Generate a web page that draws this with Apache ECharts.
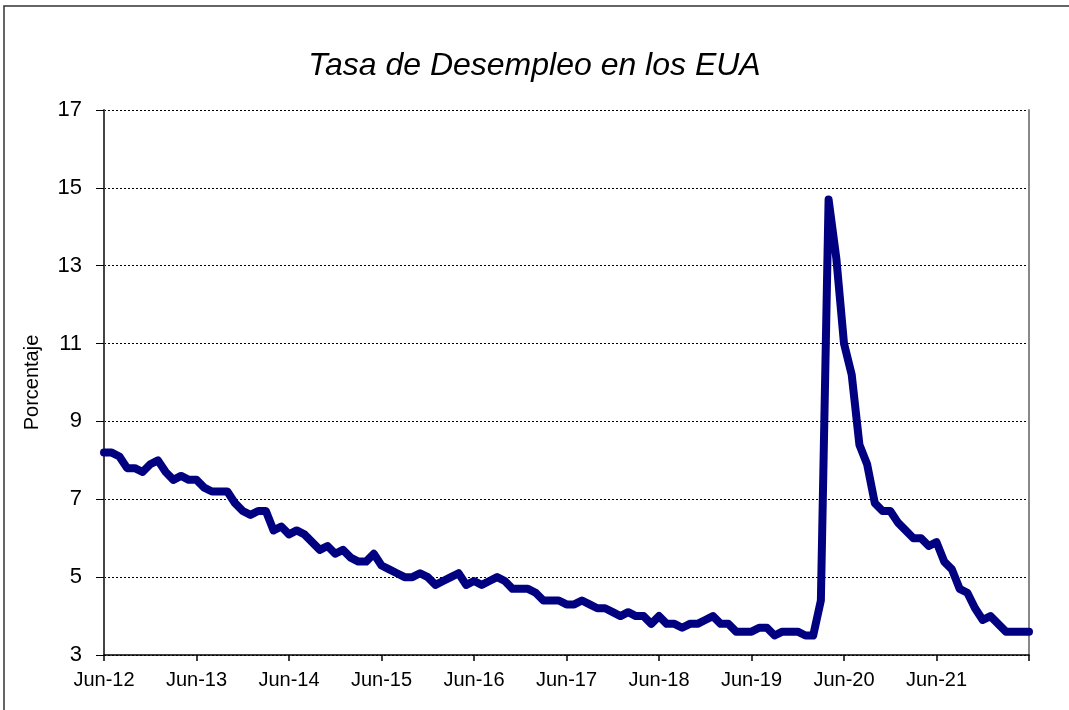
<!DOCTYPE html>
<html>
<head>
<meta charset="utf-8">
<script src="https://cdn.jsdelivr.net/npm/echarts@6/dist/echarts.min.js"></script>
<style>
  html, body { margin: 0; padding: 0; background: #fff; }
  #chart { width: 1069px; height: 710px; }
</style>
</head>
<body>
<div id="chart"></div>
<script>
// Tasa de desempleo mensual, jun-2012 a jun-2022 (%)
const MONTHS = ['Ene', 'Feb', 'Mar', 'Apr', 'May', 'Jun', 'Jul', 'Aug', 'Sep', 'Oct', 'Nov', 'Dec']
const START_YEAR = 12
const START_MONTH = 5 // Jun

const rate2012 = [8.2, 8.2, 8.1, 7.8, 7.8, 7.7, 7.9]
const rate2013 = [8.0, 7.7, 7.5, 7.6, 7.5, 7.5, 7.3, 7.2, 7.2, 7.2, 6.9, 6.7]
const rate2014 = [6.6, 6.7, 6.7, 6.2, 6.3, 6.1, 6.2, 6.1, 5.9, 5.7, 5.8, 5.6]
const rate2015 = [5.7, 5.5, 5.4, 5.4, 5.6, 5.3, 5.2, 5.1, 5.0, 5.0, 5.1, 5.0]
const rate2016 = [4.8, 4.9, 5.0, 5.1, 4.8, 4.9, 4.8, 4.9, 5.0, 4.9, 4.7, 4.7]
const rate2017 = [4.7, 4.6, 4.4, 4.4, 4.4, 4.3, 4.3, 4.4, 4.3, 4.2, 4.2, 4.1]
const rate2018 = [4.0, 4.1, 4.0, 4.0, 3.8, 4.0, 3.8, 3.8, 3.7, 3.8, 3.8, 3.9]
const rate2019 = [4.0, 3.8, 3.8, 3.6, 3.6, 3.6, 3.7, 3.7, 3.5, 3.6, 3.6, 3.6]
const rate2020 = [3.5, 3.5, 4.4, 14.7, 13.2, 11.0, 10.2, 8.4, 7.9, 6.9, 6.7, 6.7]
const rate2021 = [6.4, 6.2, 6.0, 6.0, 5.8, 5.9, 5.4, 5.2, 4.7, 4.6, 4.2, 3.9]
const rate2022 = [4.0, 3.8, 3.6, 3.6, 3.6, 3.6]

const values = [].concat(rate2012, rate2013, rate2014, rate2015, rate2016,
  rate2017, rate2018, rate2019, rate2020, rate2021, rate2022)

const categories = values.map((_, i) => {
  const m = START_MONTH + i
  const yy = START_YEAR + Math.floor(m / 12)
  return MONTHS[m % 12] + '-' + yy
})

const Y_MIN = 3
const Y_MAX = 17
const Y_STEP = 2

const chart = echarts.init(document.getElementById('chart'))
chart.setOption({
  animation: false,
  backgroundColor: '#fff',
  textStyle: { fontFamily: 'Liberation Sans, Arial, sans-serif' },
  title: {
    text: 'Tasa de Desempleo en los EUA',
    left: 'center',
    top: 45,
    textStyle: { fontSize: 32, fontStyle: 'italic', fontWeight: 'normal', color: '#000' },
  },
  graphic: [
    {
      type: 'rect',
      shape: { x: 4, y: 6, width: 1200, height: 900 },
      style: { fill: 'none', stroke: '#333', lineWidth: 1.5 },
      silent: true,
    },
  ],
  grid: { left: 104, right: 40, top: 110, bottom: 55 },
  xAxis: {
    type: 'category',
    data: categories,
    boundaryGap: false,
    axisLine: { lineStyle: { color: '#000', width: 1.5 } },
    axisTick: { interval: 11, length: 6, lineStyle: { color: '#000', width: 1.5 } },
    axisLabel: {
      interval: (i) => i % 12 === 0 && i < values.length - 1,
      color: '#000',
      fontSize: 20,
      margin: 15,
      formatter: (v) => (v.startsWith('Jun') ? v : ''),
    },
    splitLine: { show: false },
  },
  yAxis: [
    {
      type: 'value',
      min: Y_MIN,
      max: Y_MAX,
      interval: Y_STEP,
      name: 'Porcentaje',
      nameLocation: 'middle',
      nameGap: 62,
      nameTextStyle: { fontSize: 20, color: '#000' },
      axisLine: { show: true, lineStyle: { color: '#444', width: 2 } },
      axisTick: { show: true, length: 8, lineStyle: { color: '#000', width: 1 } },
      axisLabel: { color: '#000', fontSize: 22, margin: 22 },
      splitLine: { lineStyle: { color: '#000', type: [2, 2], width: 1 } },
    },
    {
      type: 'value',
      min: Y_MIN,
      max: Y_MAX,
      interval: Y_STEP,
      position: 'right',
      axisLine: { show: true, lineStyle: { color: '#888', width: 2 } },
      axisTick: { show: false },
      axisLabel: { show: false },
      splitLine: { show: false },
    },
  ],
  series: [
    {
      type: 'line',
      data: values,
      showSymbol: false,
      symbol: 'none',
      lineStyle: { color: '#000080', width: 8, cap: 'round', join: 'round' },
      z: 5,
    },
  ],
})
</script>
</body>
</html>
